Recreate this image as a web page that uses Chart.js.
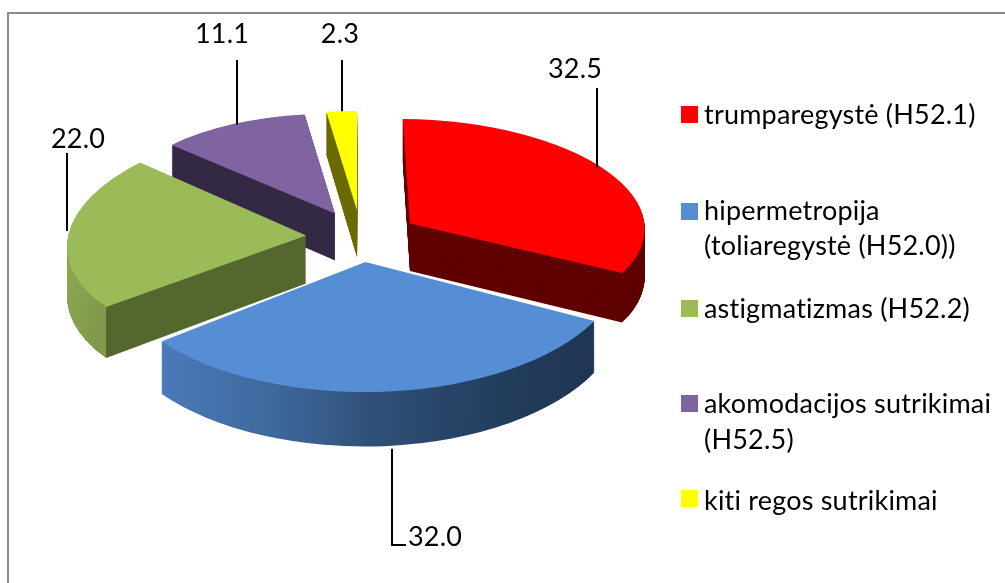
<!DOCTYPE html>
<html>
<head>
<meta charset="utf-8">
<style>html,body{margin:0;padding:0;background:#fff}canvas{display:block}</style>
<script src="https://cdn.jsdelivr.net/npm/chart.js@4"></script>
</head>
<body>
<canvas id="c" width="1005" height="583"></canvas>
<script>
const categories = ["trumparegystė (H52.1)", "hipermetropija (toliaregystė (H52.0))", "astigmatizmas (H52.2)", "akomodacijos sutrikimai (H52.5)", "kiti regos sutrikimai"];
const values = [32.5, 32.0, 22.0, 11.1, 2.3];
const legendLines = [["trumparegystė (H52.1)"], ["hipermetropija", "(toliaregystė (H52.0))"], ["astigmatizmas (H52.2)"], ["akomodacijos sutrikimai", "(H52.5)"], ["kiti regos sutrikimai"]];
const topColors = ["#ff0000", "#558ed5", "#9bbb59", "#8064a2", "#ffff00"];
const wallColors = ["#600000", "#2f5077", "#55682f", "#352a45", "#6b6b00"];
const rimStops = [["#5c0000", "#5c0000"], ["#4a7ab8", "#3f6a9f", "#2f5077", "#243f60", "#1f3552"], ["#8aa650", "#80994a"], null, null];
const rimSide = ["end", "all", "start", "none", "none"];
const drawOrder = [4, 3, 0, 2, 1];

// 3-D projection of the pie plane: (ex, ey) is the slice's explosion offset, (u, v) a point of the disc
const view = {cx: 361, cy: 236, A: 238, B: 113.8, persp: 0.097, depth: 48, explode: 0.23};
function project(ex, ey, u, v, z) {
  const w = ey + v, s = 1 / (1 - view.persp * w);
  return [view.cx + view.A * (ex + u * s), view.cy + view.B * w * s + view.depth * z * s];
}
function det3(m) {
  return m[0][0]*(m[1][1]*m[2][2]-m[1][2]*m[2][1]) - m[0][1]*(m[1][0]*m[2][2]-m[1][2]*m[2][0]) + m[0][2]*(m[1][0]*m[2][1]-m[1][1]*m[2][0]);
}
function solve3(m, r) {
  const d = det3(m), out = [];
  for (let k = 0; k < 3; k++) {
    const t = m.map((row, i) => row.map((x, j) => j === k ? r[i] : x));
    out.push(det3(t) / d);
  }
  return out;
}
function explosion(el) {
  const mid = (el.startAngle + el.endAngle) / 2;
  return [view.explode * Math.cos(mid), view.explode * Math.sin(mid), mid];
}
// least-squares affine from the arc's chart coordinates to the projected slice
function fitMatrix(el, z) {
  const {x: ox, y: oy, startAngle: a0, endAngle: a1, outerRadius: R} = el;
  const [ex, ey] = explosion(el);
  const pts = [];
  const n = 14;
  for (let i = 0; i <= n; i++) {
    const a = a0 + (a1 - a0) * i / n;
    const w = (i === 0 || i === n) ? 25 : i === n / 2 ? 12 : 1;
    pts.push({w, sx: ox + R * Math.cos(a), sy: oy + R * Math.sin(a), p: project(ex, ey, Math.cos(a), Math.sin(a), z)});
  }
  pts.push({w: 50, sx: ox, sy: oy, p: project(ex, ey, 0, 0, z)});
  const N = [[0,0,0],[0,0,0],[0,0,0]], rx = [0,0,0], ry = [0,0,0];
  for (const q of pts) {
    const b = [q.sx, q.sy, 1];
    for (let i = 0; i < 3; i++) {
      for (let j = 0; j < 3; j++) N[i][j] += q.w * b[i] * b[j];
      rx[i] += q.w * b[i] * q.p[0];
      ry[i] += q.w * b[i] * q.p[1];
    }
  }
  const X = solve3(N, rx), Y = solve3(N, ry);
  return [X[0], Y[0], X[1], Y[1], X[2], Y[2]];
}
function withColor(el, color, ctx) {
  const orig = el.options, o = Object.create(orig);
  o.backgroundColor = color;
  el.options = o;
  el.draw(ctx);
  el.options = orig;
}
function invert(m, x, y) {
  const d = m[0]*m[3] - m[1]*m[2], px = x - m[4], py = y - m[5];
  return [(m[3]*px - m[2]*py) / d, (-m[1]*px + m[0]*py) / d];
}
function drawSlice(ctx, el, i) {
  const M0 = fitMatrix(el, 0), M1 = fitMatrix(el, 1);
  const mat = t => M0.map((x, k) => x + (M1[k] - x) * t);
  const [ex, ey] = explosion(el);
  const xStart = project(ex, ey, Math.cos(el.startAngle), Math.sin(el.startAngle), 0)[0];
  const xEnd = project(ex, ey, Math.cos(el.endAngle), Math.sin(el.endAngle), 0)[0];
  const layers = 60;
  const pass = (color) => {
    for (let l = layers; l >= 1; l--) {
      const m = mat(l / layers);
      ctx.save();
      ctx.transform(m[0], m[1], m[2], m[3], m[4], m[5]);
      const c = typeof color === "function" ? color(m) : color;
      withColor(el, c, ctx);
      ctx.restore();
    }
  };
  if (rimSide[i] !== "all") pass(wallColors[i]);
  if (rimSide[i] !== "none") {
    const side = rimSide[i];
    ctx.save();
    ctx.beginPath();
    if (side === "end") ctx.rect(xEnd, 0, 1005 - xEnd, 583);
    else if (side === "start") ctx.rect(0, 0, xStart, 583);
    else ctx.rect(0, 0, 1005, 583);
    ctx.clip();
    const far = view.A * 1.25;
    const from = side === "end" ? xEnd : side === "start" ? view.cx - far : Math.min(xStart, xEnd);
    const to = side === "end" ? view.cx + far : side === "start" ? xStart : Math.max(xStart, xEnd);
    pass(m => {
      const a = invert(m, from, 300), b = invert(m, to, 300);
      const g = ctx.createLinearGradient(a[0], a[1], b[0], b[1]);
      rimStops[i].forEach((c, k, arr) => g.addColorStop(k / (arr.length - 1), c));
      return g;
    });
    ctx.restore();
  }
  ctx.save();
  const m = mat(0);
  ctx.transform(m[0], m[1], m[2], m[3], m[4], m[5]);
  el.draw(ctx);
  ctx.restore();
}

const labelFont = "27px Lato";
const valueLabels = [
  {tx: 575, ty: 78, end: [[597, 88]]},
  {tx: 435, ty: 546, end: [[392, 545], [406, 545]], front: true},
  {tx: 78, ty: 148, end: [[67, 153]]},
  {tx: 222, ty: 43, end: [[237, 60]]},
  {tx: 340, ty: 43, end: [[342, 60]]}
];
const legendRows = [
  {sw: 106, base: [124]},
  {sw: 203, base: [220, 255]},
  {sw: 300, base: [318]},
  {sw: 395, base: [413, 449]},
  {sw: 490, base: [510]}
];

const pie3d = {
  id: "pie3d",
  beforeDatasetDraw(chart) {
    const ctx = chart.ctx, els = chart.getDatasetMeta(0).data;
    ctx.save();
    ctx.strokeStyle = "#8c8c8c"; ctx.lineWidth = 2;
    ctx.beginPath(); ctx.moveTo(8, 583); ctx.lineTo(8, 13); ctx.lineTo(1005, 13); ctx.stroke();
    ctx.restore();
    for (const i of drawOrder) drawSlice(ctx, els[i], i);
    return false;
  },
  afterDraw(chart) {
    const ctx = chart.ctx, els = chart.getDatasetMeta(0).data;
    ctx.save();
    ctx.fillStyle = "#000"; ctx.font = labelFont; ctx.textAlign = "center"; ctx.textBaseline = "alphabetic";
    ctx.letterSpacing = "0.2px";
    ctx.strokeStyle = "#000"; ctx.lineWidth = 2;
    values.forEach((v, i) => {
      const [ex, ey, mid] = explosion(els[i]);
      const p = project(ex, ey, Math.cos(mid), Math.sin(mid), valueLabels[i].front ? 1 : 0);
      const lx = valueLabels[i].end[0][0];
      ctx.beginPath(); ctx.moveTo(lx, p[1]);
      valueLabels[i].end.forEach(e => ctx.lineTo(e[0], e[1]));
      ctx.stroke();
      ctx.fillText(v.toFixed(1), valueLabels[i].tx, valueLabels[i].ty);
    });
    ctx.textAlign = "left";
    legendRows.forEach((r, i) => {
      ctx.fillStyle = topColors[i];
      ctx.fillRect(681, r.sw, 17, 17);
      ctx.fillStyle = "#000";
      legendLines[i].forEach((t, k) => ctx.fillText(t, 704, r.base[k]));
    });
    ctx.restore();
  }
};

new Chart(document.getElementById("c"), {
  type: "pie",
  data: {labels: categories, datasets: [{data: values, backgroundColor: topColors, borderWidth: 0}]},
  options: {
    responsive: false,
    animation: false,
    layout: {padding: 0},
    plugins: {legend: {display: false}, tooltip: {enabled: false}}
  },
  plugins: [pie3d]
});
</script>
</body>
</html>
